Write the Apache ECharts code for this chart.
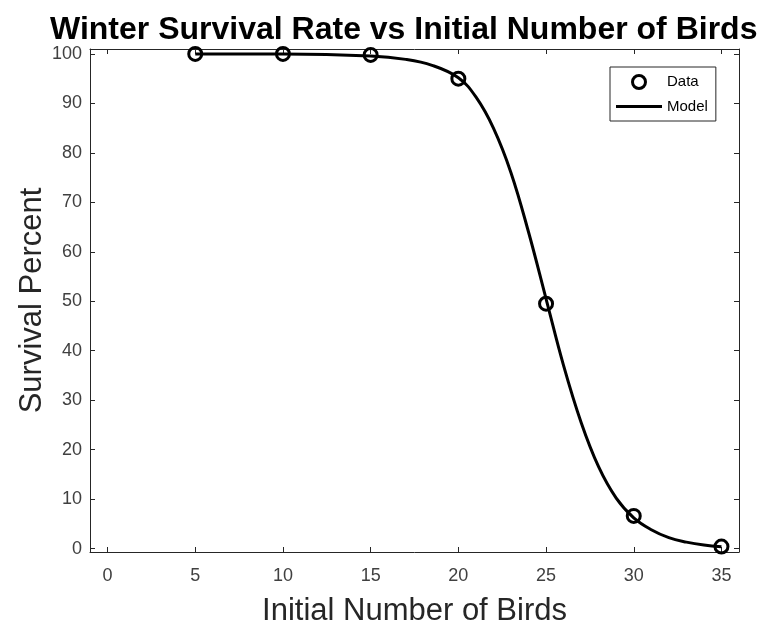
<!DOCTYPE html>
<html>
<head>
<meta charset="utf-8">
<script src="https://cdn.jsdelivr.net/npm/echarts@6/dist/echarts.min.js"></script>
<style>html,body{margin:0;padding:0;background:#fff;}#chart{width:764px;height:625px;}</style>
</head>
<body>
<div id="chart"></div>
<script>
var dataX = [5, 10, 15, 20, 25, 30, 35];
var dataY = [100, 100, 99.8, 95, 49.5, 6.6, 0.4];
var modelX = [5, 10, 15, 17, 18.5, 20, 21, 22, 23, 24, 25, 26, 27, 28, 29, 30, 31, 32, 33, 34, 35];
var modelY = [100, 100, 99.6, 98.9, 97.7, 95.2, 91.3, 85, 76, 64, 50.5, 37, 25.5, 16.5, 10.2, 6.2, 3.8, 2.2, 1.3, 0.7, 0.35];
var xTicks = [0, 5, 10, 15, 20, 25, 30, 35];
var yTicks = [0, 10, 20, 30, 40, 50, 60, 70, 80, 90, 100];

var FONT = '"Liberation Sans", Arial, Helvetica, sans-serif';
var AX = '#262626';

function pairs(xs, ys) { return xs.map(function (x, i) { return [x, ys[i]]; }); }

var chart = echarts.init(document.getElementById('chart'));
function axisBase(extra) {
  var a = {
    type: 'value',
    axisLine: { show: true, onZero: false, lineStyle: { color: AX, width: 1 } },
    axisTick: { show: true, inside: true, length: 5, lineStyle: { color: AX, width: 1 } },
    splitLine: { show: false },
    axisLabel: { show: false }
  };
  for (var k in extra) a[k] = extra[k];
  return a;
}
var option = {
  backgroundColor: '#fff',
  animation: false,
  title: {
    text: 'Winter Survival Rate vs Initial Number of Birds',
    left: 45, top: 9,
    textStyle: { fontFamily: FONT, fontWeight: 'bold', fontSize: 32, color: '#000' }
  },
  grid: { left: 90, right: 25, top: 49, bottom: 73, containLabel: false, outerBoundsMode: 'none' },
  legend: {
    orient: 'vertical', left: 610, top: 67,
    itemWidth: 46, itemHeight: 13, itemGap: 9,
    padding: [7, 8, 7, 6],
    borderColor: AX, borderWidth: 1, backgroundColor: '#fff',
    textStyle: { fontFamily: FONT, fontSize: 15, color: '#000' },
    data: [
      { name: 'Data', icon: 'circle', itemStyle: { color: 'transparent', borderColor: '#000', borderWidth: 3, opacity: 1 } },
      { name: 'Model', icon: 'path://M0,0 L46,0 L46,3 L0,3 Z', itemStyle: { color: '#000', borderWidth: 0, opacity: 1 } }
    ]
  },
  xAxis: [
    axisBase({
      min: -1, max: 36, position: 'bottom',
      axisTick: { show: true, inside: true, length: 5, customValues: xTicks, lineStyle: { color: AX } },
      axisLabel: { show: true, customValues: xTicks, margin: 15, fontFamily: FONT, fontSize: 18, color: '#404040' },
      name: 'Initial Number of Birds', nameLocation: 'middle', nameGap: 44,
      nameTextStyle: { fontFamily: FONT, fontSize: 31, color: '#262626' }
    }),
    axisBase({
      min: -1, max: 36, position: 'top',
      axisTick: { show: true, inside: true, length: 5, customValues: xTicks, lineStyle: { color: AX } }
    })
  ],
  yAxis: [
    axisBase({
      min: -0.7, max: 101, position: 'left',
      axisTick: { show: true, inside: true, length: 5, customValues: yTicks, lineStyle: { color: AX } },
      axisLabel: { show: true, customValues: yTicks, margin: 8, fontFamily: FONT, fontSize: 18, color: '#404040' },
      name: 'Survival Percent', nameLocation: 'middle', nameGap: 42, nameRotate: 90, nameMoveOverlap: false,
      nameTextStyle: { fontFamily: FONT, fontSize: 31, color: '#262626' }
    }),
    axisBase({
      min: -0.7, max: 101, position: 'right',
      axisTick: { show: true, inside: true, length: 5, customValues: yTicks, lineStyle: { color: AX } }
    })
  ],
  series: [
    {
      name: 'Model', type: 'line', xAxisIndex: 0, yAxisIndex: 0,
      data: pairs(modelX, modelY), smooth: 0.4, showSymbol: false, symbol: 'none',
      lineStyle: { color: '#000', width: 3 }, itemStyle: { color: '#000' }, z: 2
    },
    {
      name: 'Data', type: 'scatter', xAxisIndex: 0, yAxisIndex: 0,
      data: pairs(dataX, dataY), symbol: 'circle', symbolSize: 13,
      itemStyle: { color: 'transparent', borderColor: '#000', borderWidth: 3, opacity: 1 }, z: 3
    }
  ]
};
chart.setOption(option);
</script>
</body>
</html>
